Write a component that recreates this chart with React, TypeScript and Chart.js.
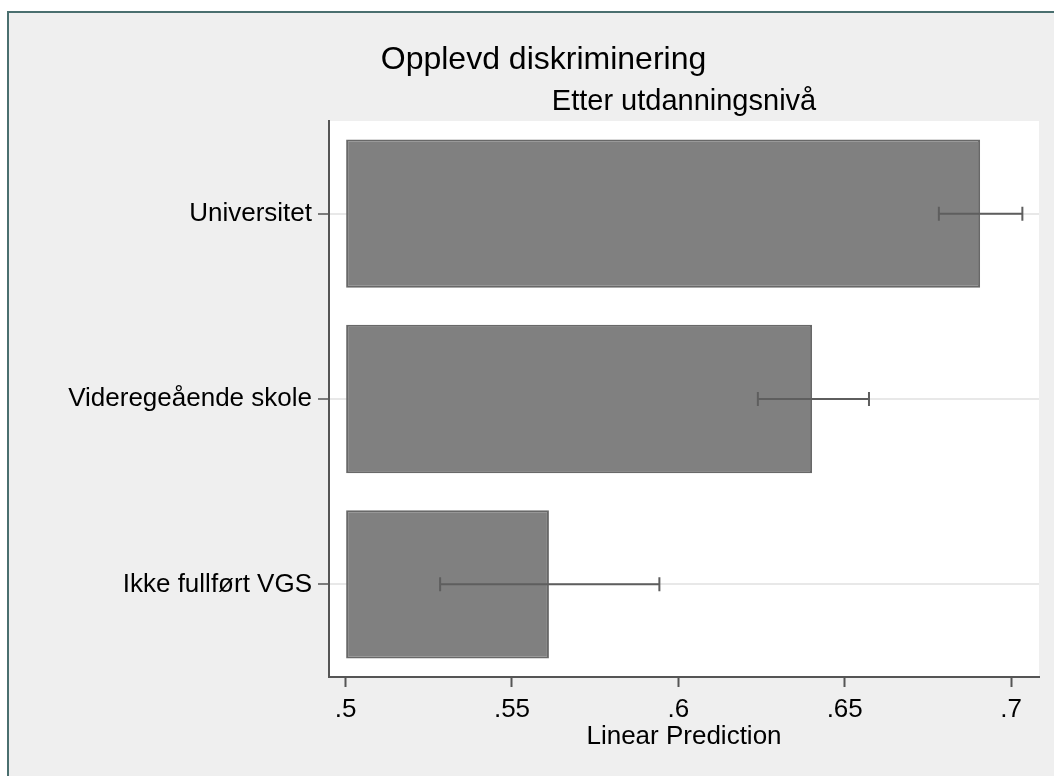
import React, { useEffect, useRef } from "react";
import { Chart, registerables } from "chart.js";

Chart.register(...registerables);

const categories = ["Universitet", "Videregeående skole", "Ikke fullført VGS"];
const predictions = [0.6907, 0.6402, 0.5611];
const ciLower = [0.6783, 0.6239, 0.5284];
const ciUpper = [0.7034, 0.6573, 0.5943];
const barBase = 0.5;
const xTickValues = [0.5, 0.55, 0.6, 0.65, 0.7];
const titleText = "Opplevd diskriminering";
const subtitleText = "Etter utdanningsnivå";
const xTitleText = "Linear Prediction";

const FONT = "'Liberation Sans', Arial, sans-serif";

const framePlugin = {
  id: "framePlugin",
  beforeDraw(chart: any) {
    const { ctx, chartArea, width, height } = chart;
    ctx.save();
    ctx.fillStyle = "#ffffff";
    ctx.fillRect(0, 0, width, height);
    ctx.fillStyle = "#efefef";
    ctx.fillRect(7, 11, width, height);
    ctx.strokeStyle = "#4a6f6f";
    ctx.lineWidth = 2;
    ctx.beginPath();
    ctx.moveTo(8, height);
    ctx.lineTo(8, 12);
    ctx.lineTo(width, 12);
    ctx.stroke();
    ctx.fillStyle = "#ffffff";
    ctx.fillRect(chartArea.left, chartArea.top, chartArea.right - chartArea.left, chartArea.bottom - chartArea.top);
    ctx.restore();
  },
  afterDraw(chart: any) {
    const { ctx, chartArea } = chart;
    ctx.save();
    ctx.fillStyle = "#000000";
    ctx.textAlign = "center";
    ctx.textBaseline = "alphabetic";
    ctx.font = `32px ${FONT}`;
    ctx.fillText(titleText, 543.5, 69);
    ctx.font = `29px ${FONT}`;
    ctx.fillText(subtitleText, (chartArea.left + chartArea.right) / 2, 110);
    ctx.restore();
  },
};

const errorBarPlugin = {
  id: "errorBarPlugin",
  afterDatasetsDraw(chart: any) {
    const { ctx, scales } = chart;
    const xs = scales.x;
    const ys = scales.y;
    ctx.save();
    ctx.strokeStyle = "#5e5e5e";
    ctx.lineWidth = 2;
    categories.forEach((_, i) => {
      const y = ys.getPixelForValue(i);
      const x1 = xs.getPixelForValue(ciLower[i]);
      const x2 = xs.getPixelForValue(ciUpper[i]);
      ctx.beginPath();
      ctx.moveTo(x1, y);
      ctx.lineTo(x2, y);
      ctx.moveTo(x1, y - 7);
      ctx.lineTo(x1, y + 7);
      ctx.moveTo(x2, y - 7);
      ctx.lineTo(x2, y + 7);
      ctx.stroke();
    });
    ctx.restore();
  },
};

export default function App() {
  const canvasRef = useRef<HTMLCanvasElement | null>(null);

  useEffect(() => {
    if (!canvasRef.current) return;
    const chart = new Chart(canvasRef.current, {
      type: "bar",
      data: {
        labels: categories,
        datasets: [
          {
            data: predictions,
            base: barBase,
            backgroundColor: "#808080",
            borderColor: "#686868",
            borderWidth: 2,
            borderSkipped: false,
            barPercentage: 0.8,
            categoryPercentage: 1,
          } as any,
        ],
      },
      options: {
        indexAxis: "y",
        animation: false,
        responsive: false,
        maintainAspectRatio: false,
        layout: { padding: { left: 0, right: 15, top: 121, bottom: 0 } },
        plugins: {
          legend: { display: false },
          tooltip: { enabled: false },
          title: { display: false },
        },
        scales: {
          x: {
            type: "linear",
            min: 0.495,
            max: 0.7084,
            afterBuildTicks(scale: any) {
              scale.ticks = xTickValues.map((v) => ({ value: v }));
            },
            afterFit(scale: any) {
              scale.height = 99;
            },
            grid: {
              drawOnChartArea: false,
              drawTicks: true,
              tickLength: 10,
              tickColor: "#555555",
              tickWidth: 2,
            },
            border: { display: true, color: "#555555", width: 2 },
            ticks: {
              color: "#000000",
              font: { family: FONT, size: 26 },
              padding: 7,
              maxRotation: 0,
              autoSkip: false,
              callback: (v: any) => {
                const s = Number(v).toString();
                return s.startsWith("0") ? s.slice(1) : s;
              },
            },
            title: {
              display: true,
              text: xTitleText,
              color: "#000000",
              font: { family: FONT, size: 26 },
              padding: { top: 0, bottom: 24 },
            },
          },
          y: {
            type: "category",
            afterFit(scale: any) {
              scale.width = 329;
            },
            grid: {
              offset: false,
              color: "#e8e8e8",
              lineWidth: 2,
              drawTicks: true,
              tickLength: 11,
              tickColor: "#555555",
              tickWidth: 1.5,
            },
            border: { display: true, color: "#555555", width: 2 },
            ticks: {
              color: "#000000",
              font: { family: FONT, size: 26 },
              padding: 6,
              autoSkip: false,
            },
          },
        },
      },
      plugins: [framePlugin, errorBarPlugin],
    });
    return () => chart.destroy();
  }, []);

  return (
    <div style={{ position: "absolute", left: 0, top: 0, width: 1054, height: 776, background: "#ffffff" }}>
      <canvas ref={canvasRef} width={1054} height={776} style={{ display: "block", width: 1054, height: 776 }} />
    </div>
  );
}
